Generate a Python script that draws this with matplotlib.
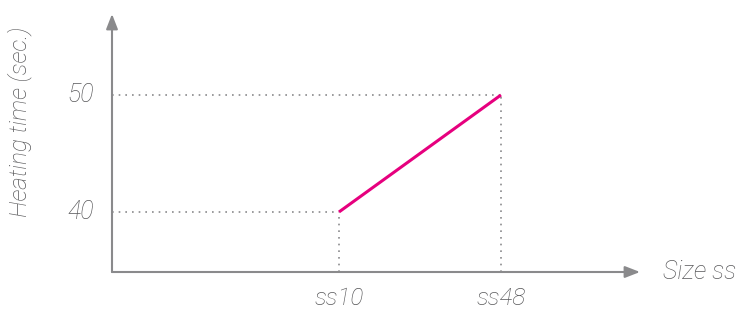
import matplotlib
matplotlib.use("Agg")
import matplotlib.pyplot as plt

sizes = ["ss10", "ss48"]
heating_time = [40, 50]
y_ticks = [40, 50]

grey = "#8a8a8c"
text_grey = "#58585a"
pink = "#e6007e"

fig = plt.figure(figsize=(7.39, 3.11), dpi=100)
ax = fig.add_axes([112 / 739, 39 / 311, 528 / 739, 258 / 311])
xs = list(range(len(sizes)))
ax.set_xlim(-1.401, 1.858)
ax.set_ylim(34.87, 56.92)
for s in ax.spines.values():
    s.set_visible(False)
ax.set_xticks([])
ax.set_yticks([])
ax.patch.set_alpha(0)

font = dict(family="Roboto", style="italic", weight="light", color=text_grey)

# axes with arrow heads
x0, x1 = ax.get_xlim()
y0, y1 = ax.get_ylim()
ax.annotate("", xy=(x1, y0), xytext=(x0, y0),
            arrowprops=dict(arrowstyle="-|>,head_length=0.9,head_width=0.35",
                            color=grey, lw=1.5, shrinkA=0, shrinkB=0),
            annotation_clip=False)
ax.annotate("", xy=(x0, y1), xytext=(x0, y0),
            arrowprops=dict(arrowstyle="-|>,head_length=0.9,head_width=0.35",
                            color=grey, lw=1.5, shrinkA=0, shrinkB=0),
            annotation_clip=False)

# dotted guides
for x, y in zip(xs, heating_time):
    ax.plot([x0, x], [y, y], linestyle=(0, (1, 3)), color=grey, lw=1.2)
    ax.plot([x, x], [y0, y], linestyle=(0, (1, 3)), color=grey, lw=1.2)

ax.plot(xs, heating_time, color=pink, lw=2.2, solid_capstyle="butt", zorder=3)

for y in y_ticks:
    ax.text(x0 - 0.11, y, str(y), ha="right", va="center", fontsize=18, **font)
for x, lab in zip(xs, sizes):
    ax.text(x, y0 - 1.3, lab, ha="center", va="top", fontsize=17.5, **font)

ax.text(x1 + 0.14, y0, "Size ss", ha="left", va="center", fontsize=18, **font)
fig.text(20 / 739, 1 - 122 / 311, "Heating time (sec.)", rotation=90,
         ha="center", va="center", fontsize=17.5, **font)

fig.savefig("out.png", dpi=100)
